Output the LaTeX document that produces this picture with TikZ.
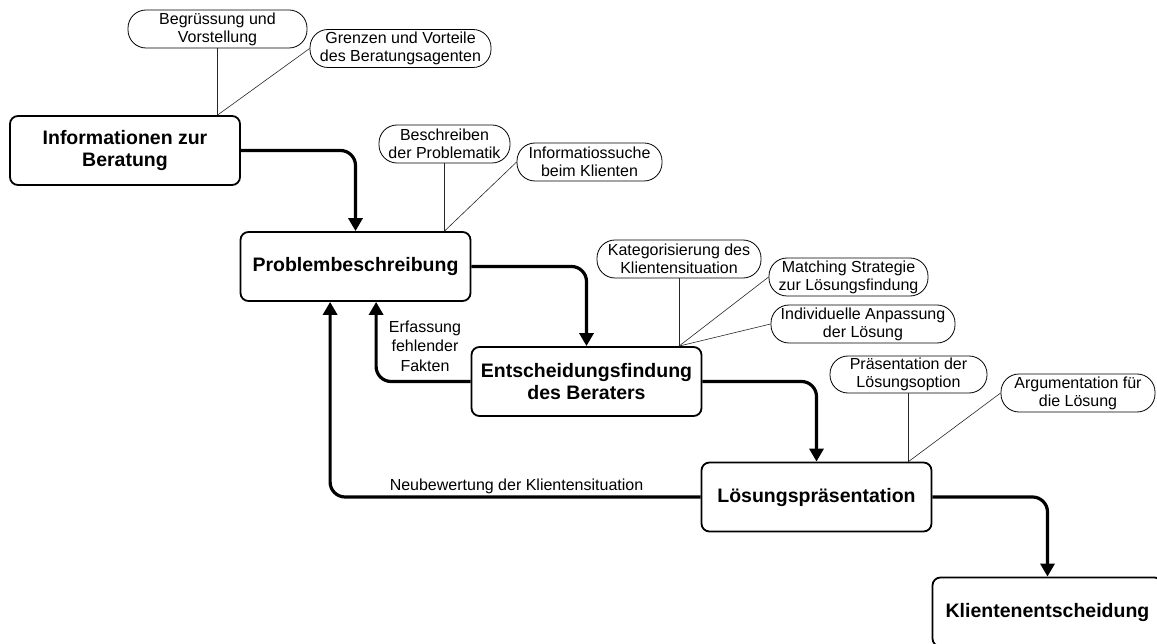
\documentclass[tikz,border=0pt]{standalone}
\usepackage{fontspec}
\setmainfont{Liberation Sans}
\usetikzlibrary{arrows.meta}
\begin{document}
\begin{tikzpicture}[x=1pt,y=-1pt,
  box/.style={draw, line width=1.8pt, rounded corners=8pt, minimum width=230pt, minimum height=69pt, inner sep=0pt, align=center, font=\fontsize{19.5}{22}\selectfont\bfseries},
  bubble/.style={draw, line width=0.8pt, rounded corners=18pt, minimum height=38pt, inner sep=0pt, align=center, font=\fontsize{16}{18}\selectfont},
  flow/.style={line width=3.2pt, rounded corners=15pt, -{Triangle[length=13pt,width=14pt]}},
  conn/.style={line width=0.6pt, black!85},
  lbl/.style={font=\fontsize{16}{19.5}\selectfont, align=center, inner sep=0pt}]
\useasboundingbox (0,0) rectangle (1157,644);

% main boxes
\node[box] (B1) at (125,150.5) {Informationen zur\\Beratung};
\node[box] (B2) at (355.5,266.5) {Problembeschreibung};
\node[box] (B3) at (586.5,381.5) {Entscheidungsfindung\\des Beraters};
\node[box] (B4) at (816.5,497) {Lösungspräsentation};
\node[box] (B5) at (1047.5,612) {Klientenentscheidung};

% bubbles
\node[bubble, minimum width=179pt] (bA) at (217.5,29) {Begrüssung und\\Vorstellung};
\node[bubble, minimum width=181pt] (bB) at (400.5,48.5) {Grenzen und Vorteile\\des Beratungsagenten};
\node[bubble, minimum width=131pt] (bC) at (444.5,144) {Beschreiben\\der Problematik};
\node[bubble, minimum width=145pt] (bD) at (589.5,162) {Informatiossuche\\beim Klienten};
\node[bubble, minimum width=164pt] (bE) at (679,259) {Kategorisierung des\\Klientensituation};
\node[bubble, minimum width=159pt] (bF) at (848.5,277) {Matching Strategie\\zur Lösungsfindung};
\node[bubble, minimum width=184pt] (bG) at (863,324) {Individuelle Anpassung\\der Lösung};
\node[bubble, minimum width=157pt, minimum height=37pt] (bH) at (908.5,374.5) {Präsentation der\\Lösungsoption};
\node[bubble, minimum width=154pt] (bI) at (1078,393) {Argumentation für\\die Lösung};

% junction points on box tops
\coordinate (j1) at (B1.north -| bA.south);
\coordinate (j2) at (B2.north -| bC.south);
\coordinate (j3) at (B3.north -| bE.south);
\coordinate (j4) at (B4.north -| bH.south);

\draw[conn] (bA.south) -- (j1);
\draw[conn] (bB.west) -- (j1);
\draw[conn] (bC.south) -- (j2);
\draw[conn] (bD.west) -- (j2);
\draw[conn] (bE.south) -- (j3);
\draw[conn] (bF.west) -- (j3);
\draw[conn] (bG.west) -- (j3);
\draw[conn] (bH.south) -- (j4);
\draw[conn] (bI.west) -- (j4);

% flow arrows
\draw[flow] (B1.east) -| (B2.north);
\draw[flow] (B2.east) -| (B3.north);
\draw[flow] (B3.east) -| (B4.north);
\draw[flow] (B4.east) -| (B5.north);
\draw[flow] (B3.west) -| ([xshift=136.5pt]B2.south west);
\draw[flow] (B4.west) -| ([xshift=90.5pt]B2.south west);

% labels
\node[lbl] (l1) at (425,346) {Erfassung\\fehlender\\Fakten};
\node[lbl, anchor=base] (l2) at (516.5,490) {Neubewertung der Klientensituation};
\end{tikzpicture}
\end{document}
